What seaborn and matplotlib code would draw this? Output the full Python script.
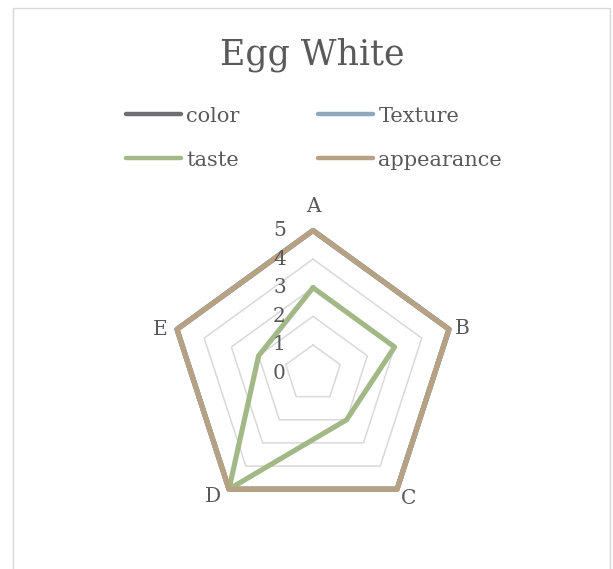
import numpy as np
import pandas as pd
import matplotlib
matplotlib.use("Agg")
import matplotlib.pyplot as plt
import seaborn as sns
from matplotlib.lines import Line2D
from matplotlib.patches import Rectangle

# --- data ---------------------------------------------------------------
categories = ["A", "B", "C", "D", "E"]
series_names = ["color", "Texture", "taste", "appearance"]
color_vals = [5, 5, 5, 5, 5]
texture_vals = [5, 5, 5, 5, 5]
taste_vals = [3, 3, 2, 5, 2]
appearance_vals = [5, 5, 5, 5, 5]
grid_levels = [1, 2, 3, 4, 5]
tick_labels = ["0", "1", "2", "3", "4", "5"]

palette = {
    "color": "#6e6e73",
    "Texture": "#8fa8bd",
    "taste": "#a3b887",
    "appearance": "#b7a183",
}
text_color = "#595959"
grid_color = "#d9d9d9"

sns.set_theme(style="white")
plt.rcParams["font.family"] = ["DejaVu Serif"]

W, H = 613, 569
fig = plt.figure(figsize=(W / 100, H / 100), dpi=100)

# radar area: centre and pixel size of one unit of value
cx, cy = 313, H - 373.5
unit = 28.6
L = 6.4
ax = fig.add_axes([(cx - L * unit) / W, (cy - L * unit) / H,
                   2 * L * unit / W, 2 * L * unit / H])
ax.set_xlim(-L, L)
ax.set_ylim(-L, L)
ax.axis("off")

n = len(categories)
theta = np.arange(n) * 2 * np.pi / n  # clockwise from the top
r_max = max(grid_levels)


def polygon(name, values):
    rows = []
    for i in list(range(n)) + [0]:
        rows.append({"series": name, "cat": categories[i],
                     "x": values[i] * np.sin(theta[i]),
                     "y": values[i] * np.cos(theta[i])})
    return rows


# pentagon grid
grid_rows = []
for lv in grid_levels:
    grid_rows += polygon(lv, [lv] * n)
grid_df = pd.DataFrame(grid_rows)
sns.lineplot(data=grid_df, x="x", y="y", units="series", estimator=None,
             sort=False, color=grid_color, linewidth=1.1, legend=False, ax=ax)

# series
all_vals = {"color": color_vals, "Texture": texture_vals,
            "taste": taste_vals, "appearance": appearance_vals}
rows = []
for s in series_names:
    rows += polygon(s, all_vals[s])
df = pd.DataFrame(rows)
n_grid = len(ax.lines)
sns.lineplot(data=df, x="x", y="y", hue="series", hue_order=series_names,
             palette=palette, estimator=None, sort=False, linewidth=3.7,
             legend=False, ax=ax)
for ln in ax.lines[n_grid:]:
    ln.set_solid_joinstyle("round")
    ln.set_solid_capstyle("round")

# value ticks along the top spoke
for i, t in enumerate(tick_labels):
    ax.text(-0.95, i, t, ha="right", va="center", fontsize=14.5,
            color=text_color)

# category labels, offset (in points) from the outer vertices
label_offsets = [(0, 17, "center"), (4, 0.5, "left"), (3, -6.5, "left"),
                 (-6, -5, "right"), (-6.5, 0, "right")]
for i, c in enumerate(categories):
    dx, dy, ha = label_offsets[i]
    ax.annotate(c, xy=(r_max * np.sin(theta[i]), r_max * np.cos(theta[i])),
                xytext=(dx, dy), textcoords="offset points", ha=ha,
                va="center", fontsize=14.5, color=text_color)

# title
fig.text(312 / W, (H - 64) / H, "Egg White", ha="center", va="baseline",
         fontsize=25, color=text_color)

# legend (two columns, row-wise reading order)
order = ["color", "taste", "Texture", "appearance"]
handles = [Line2D([], [], color=palette[s], lw=3.2, solid_capstyle="round")
           for s in order]
fig.legend(handles, order, loc="upper center",
           bbox_to_anchor=(314 / W, (H - 88) / H), ncol=2, frameon=False,
           fontsize=15, handlelength=2.65, handletextpad=0.25,
           columnspacing=3.75, labelspacing=1.2, labelcolor=text_color)

# chart frame
fig.add_artist(Rectangle((12.5 / W, -0.05), (610 - 12.5) / W,
                         (H - 7.5) / H + 0.05, transform=fig.transFigure,
                         fill=False, ec=grid_color, lw=1))

fig.savefig("out.png", dpi=100, facecolor="white")
